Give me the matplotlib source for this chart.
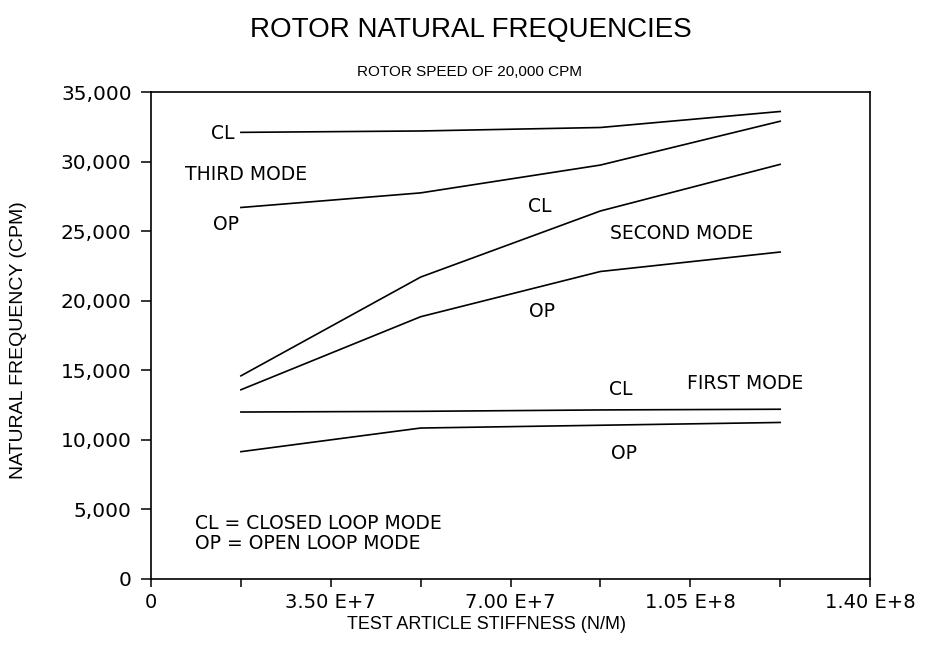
import matplotlib.pyplot as plt
from matplotlib.ticker import MultipleLocator

# test article stiffness (N/M) at which the modes were computed
stiffness = [1.75e7, 5.25e7, 8.75e7, 1.225e8]

# natural frequencies (CPM)
third_cl = [32100, 32200, 32450, 33600]
third_op = [26700, 27750, 29750, 32900]
second_cl = [14600, 21700, 26450, 29800]
second_op = [13600, 18850, 22100, 23500]
first_cl = [12000, 12050, 12150, 12200]
first_op = [9150, 10850, 11050, 11250]

x_ticks = [0, 3.5e7, 7.0e7, 1.05e8, 1.4e8]
x_ticklabels = ["0", "3.50 E+7", "7.00 E+7", "1.05 E+8", "1.40 E+8"]
y_ticks = [0, 5000, 10000, 15000, 20000, 25000, 30000, 35000]
y_ticklabels = ["0", "5,000", "10,000", "15,000", "20,000", "25,000", "30,000", "35,000"]

# curve labels: text, x, y, alignment
notes = [
    ("CL", 1.62e7, 32000, "right"),
    ("THIRD MODE", 6.7e6, 29100, "left"),
    ("OP", 1.72e7, 25500, "right"),
    ("CL", 7.56e7, 26800, "center"),
    ("SECOND MODE", 8.93e7, 24800, "left"),
    ("OP", 7.62e7, 19200, "center"),
    ("CL", 9.15e7, 13600, "center"),
    ("FIRST MODE", 1.044e8, 14060, "left"),
    ("OP", 9.2e7, 9050, "center"),
    ("CL = CLOSED LOOP MODE", 8.6e6, 3960, "left"),
    ("OP = OPEN LOOP MODE", 8.6e6, 2520, "left"),
]

fig = plt.figure(figsize=(9.3, 6.48), dpi=100)
ax = fig.add_axes([0.1624, 0.1065, 0.7731, 0.7515])

for curve in [third_cl, third_op, second_cl, second_op, first_cl, first_op]:
    ax.plot(stiffness, curve, color="black", lw=1.2)

for txt, x, y, ha in notes:
    ax.text(x, y, txt, ha=ha, va="center", fontsize=13.5, family="DejaVu Sans")

ax.set_xlim(0, 1.4e8)
ax.set_ylim(0, 35000)
ax.set_xticks(x_ticks)
ax.set_xticklabels(x_ticklabels)
ax.xaxis.set_minor_locator(MultipleLocator(1.75e7))
ax.set_yticks(y_ticks)
ax.set_yticklabels(y_ticklabels)

ax.tick_params(axis="x", which="both", direction="out", length=6, width=1.1, pad=4, labelsize=14)
ax.tick_params(axis="y", direction="out", length=7, width=1.1, pad=7, labelsize=14.5)
for s in ax.spines.values():
    s.set_linewidth(1.2)

fig.text(0.5065, 0.953, "ROTOR NATURAL FREQUENCIES", ha="center", va="center",
         fontsize=20, family="Liberation Sans")
fig.text(0.505, 0.889, "ROTOR SPEED OF 20,000 CPM", ha="center", va="center",
         fontsize=11, family="Liberation Sans")
fig.text(0.0194, 0.475, "NATURAL FREQUENCY (CPM)", ha="center", va="center",
         rotation=90, fontsize=14, family="Liberation Sans")
fig.text(0.5226, 0.036, "TEST ARTICLE STIFFNESS (N/M)", ha="center", va="center",
         fontsize=13, family="Liberation Sans")

fig.savefig("out.png", dpi=100)
